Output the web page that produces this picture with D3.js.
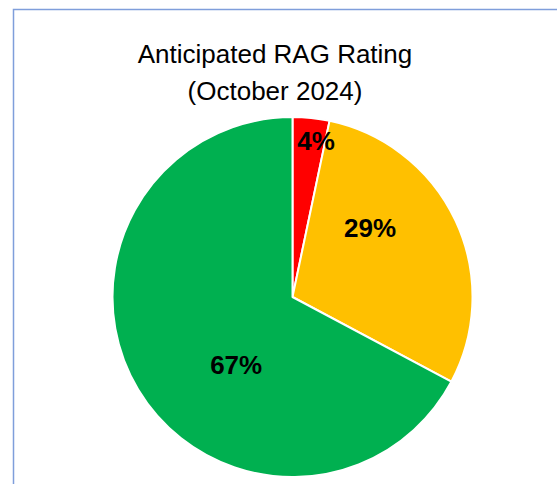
<!DOCTYPE html>
<html>
<head>
<meta charset="utf-8">
<script src="https://cdn.jsdelivr.net/npm/d3@7"></script>
<style>
	body { margin: 0; background: #fff; }
	svg { display: block; }
	.title { font-family: "Liberation Sans", Arial, sans-serif; font-size: 26px; fill: #000; }
	.pctLabel { font-family: "Liberation Sans", Arial, sans-serif; font-size: 26px; font-weight: bold; fill: #000; }
</style>
</head>
<body>
<div id="graphic"></div>
<script>
var categories = ["Red", "Amber", "Green"]
var shares = [3.3, 29.5, 67.2]
var pctLabels = ["4%", "29%", "67%"]
var titleLines = ["Anticipated RAG Rating", "(October 2024)"]

var colors = { Red: "#ff0000", Amber: "#ffc000", Green: "#00b050" }
// where excel dropped each label: fraction along the slice, fraction of radius
var labelSpots = [[0.72, 0.88], [0.34, 0.58], [0.42, 0.49]]

var width = 557, height = 484
var cx = 292.5, cy = 297, radius = 180

var svg = d3.select("#graphic")
	.append("svg")
	.attr("width", width)
	.attr("height", height)

// chart frame, runs off the right and bottom edge
svg.append("rect")
	.attr("x", 13.5)
	.attr("y", 9.5)
	.attr("width", width + 20)
	.attr("height", height + 20)
	.attr("fill", "none")
	.attr("stroke", "#7f9edb")
	.attr("stroke-width", 1.5)

svg.selectAll(".title")
	.data(titleLines)
	.enter()
	.append("text")
	.attr("class", "title")
	.attr("x", 275)
	.attr("y", function(d, i){ return 63 + i * 37 })
	.attr("text-anchor", "middle")
	.text(function(d){ return d })

var pie = d3.pie().sort(null).value(function(d){ return d })
var arcs = pie(shares)
var arc = d3.arc().innerRadius(0).outerRadius(radius)

var g = svg.append("g")
	.attr("transform", "translate(" + cx + "," + cy + ")")

g.selectAll(".slice")
	.data(arcs)
	.enter()
	.append("path")
	.attr("class", "slice")
	.attr("d", arc)
	.attr("fill", function(d, i){ return colors[categories[i]] })
	.attr("stroke", "#fff")
	.attr("stroke-width", 2)
	.attr("stroke-linejoin", "round")

g.selectAll(".pctLabel")
	.data(arcs)
	.enter()
	.append("text")
	.attr("class", "pctLabel")
	.attr("transform", function(d, i){
		var a = d.startAngle + (d.endAngle - d.startAngle) * labelSpots[i][0]
		var r = radius * labelSpots[i][1]
		var p = d3.arc().innerRadius(r).outerRadius(r).startAngle(a).endAngle(a).centroid()
		return "translate(" + p[0] + "," + p[1] + ")"
	})
	.attr("text-anchor", "middle")
	.attr("dy", "0.36em")
	.text(function(d, i){ return pctLabels[i] })
</script>
</body>
</html>
